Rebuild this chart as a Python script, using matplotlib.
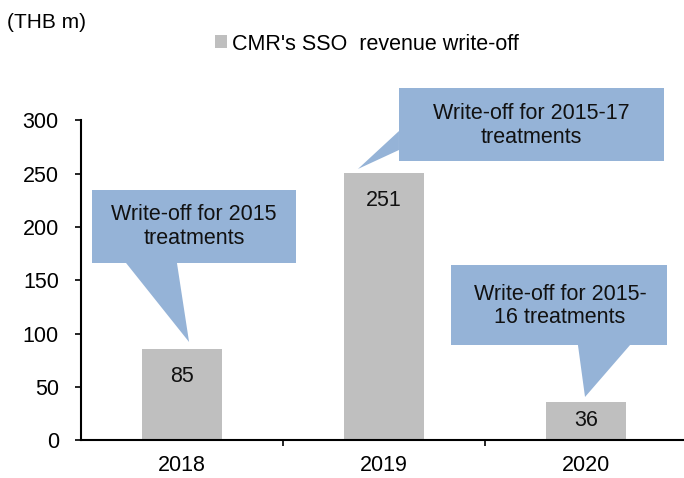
import matplotlib
matplotlib.use("Agg")
import matplotlib.pyplot as plt
from matplotlib.patches import Polygon

plt.rcParams['font.family'] = ['Liberation Sans', 'DejaVu Sans']

years = ['2018', '2019', '2020']
write_off = [85, 251, 36]
series_name = "CMR's SSO  revenue write-off"
unit_label = '(THB m)'

notes = ['Write-off for 2015\ntreatments',
         'Write-off for 2015-17\ntreatments',
         'Write-off for 2015-\n16 treatments']

bar_color = '#bfbfbf'
note_color = '#95b3d7'

fig = plt.figure(figsize=(6.84, 4.78), dpi=100)
ax = fig.add_axes([81 / 684, 38 / 478, 603 / 684, 319.5 / 478])

x = list(range(len(years)))
ax.bar(x, write_off, width=0.4, color=bar_color, label=series_name, zorder=2)

# value labels inside the bars
for i, v in enumerate(write_off):
    off = -8 if v < 50 else -17
    ax.annotate(str(v), (i, v), xytext=(0, off), textcoords='offset pixels',
                ha='center', va='top', fontsize=15.5, color='#111111')

ax.set_xlim(-0.5, 2.485)
ax.set_ylim(0, 300)
ax.set_yticks(range(0, 301, 50))
ax.set_xticks(x)
ax.set_xticklabels(years)
ax.set_xticks([0.5, 1.5], minor=True)
ax.tick_params(axis='x', which='major', length=0, pad=11, labelsize=15.5)
ax.tick_params(axis='x', which='minor', length=4, width=1.2, direction='out')
ax.tick_params(axis='y', length=4, width=1.2, pad=12, labelsize=15.5)
for s in ['top', 'right']:
    ax.spines[s].set_visible(False)
for s in ['left', 'bottom']:
    ax.spines[s].set_linewidth(1.5)

# callouts: box (x0, x1, y0, y1), pointer base points, tip, text centre
callouts = [
    dict(box=(-0.446, 0.564, 166.2, 234.7), base=[(-0.025, 166.2), (-0.277, 166.2)],
         tip=(0.035, 92.0), txt=(0.059, 200.5)),
    dict(box=(1.074, 2.386, 262.0, 330.5), base=[(1.074, 272.3), (1.074, 290.1)],
         tip=(0.871, 254.5), txt=(1.728, 295.3)),
    dict(box=(1.332, 2.401, 89.2, 164.3), base=[(2.218, 89.2), (1.960, 89.2)],
         tip=(1.995, 40.4), txt=(1.871, 126.0)),
]

for c, note in zip(callouts, notes):
    x0, x1, y0, y1 = c['box']
    rect = Polygon([(x0, y0), (x1, y0), (x1, y1), (x0, y1)], closed=True,
                   facecolor=note_color, edgecolor='none', clip_on=False, zorder=3)
    tri = Polygon([c['base'][0], c['tip'], c['base'][1]], closed=True,
                  facecolor=note_color, edgecolor='none', clip_on=False, zorder=3)
    ax.add_patch(rect)
    ax.add_patch(tri)
    ax.text(c['txt'][0], c['txt'][1], note, ha='center', va='center',
            fontsize=15.5, color='#111111', linespacing=1.15, zorder=4)

leg = fig.legend(loc='center', bbox_to_anchor=(0.537, 1 - 44 / 478), frameon=False,
                 fontsize=15.5, handlelength=0.55, handleheight=0.55,
                 handletextpad=0.25)

fig.text(7 / 684, 1 - 22 / 478, unit_label, ha='left', va='center', fontsize=15)

fig.savefig('out.png', dpi=100)
